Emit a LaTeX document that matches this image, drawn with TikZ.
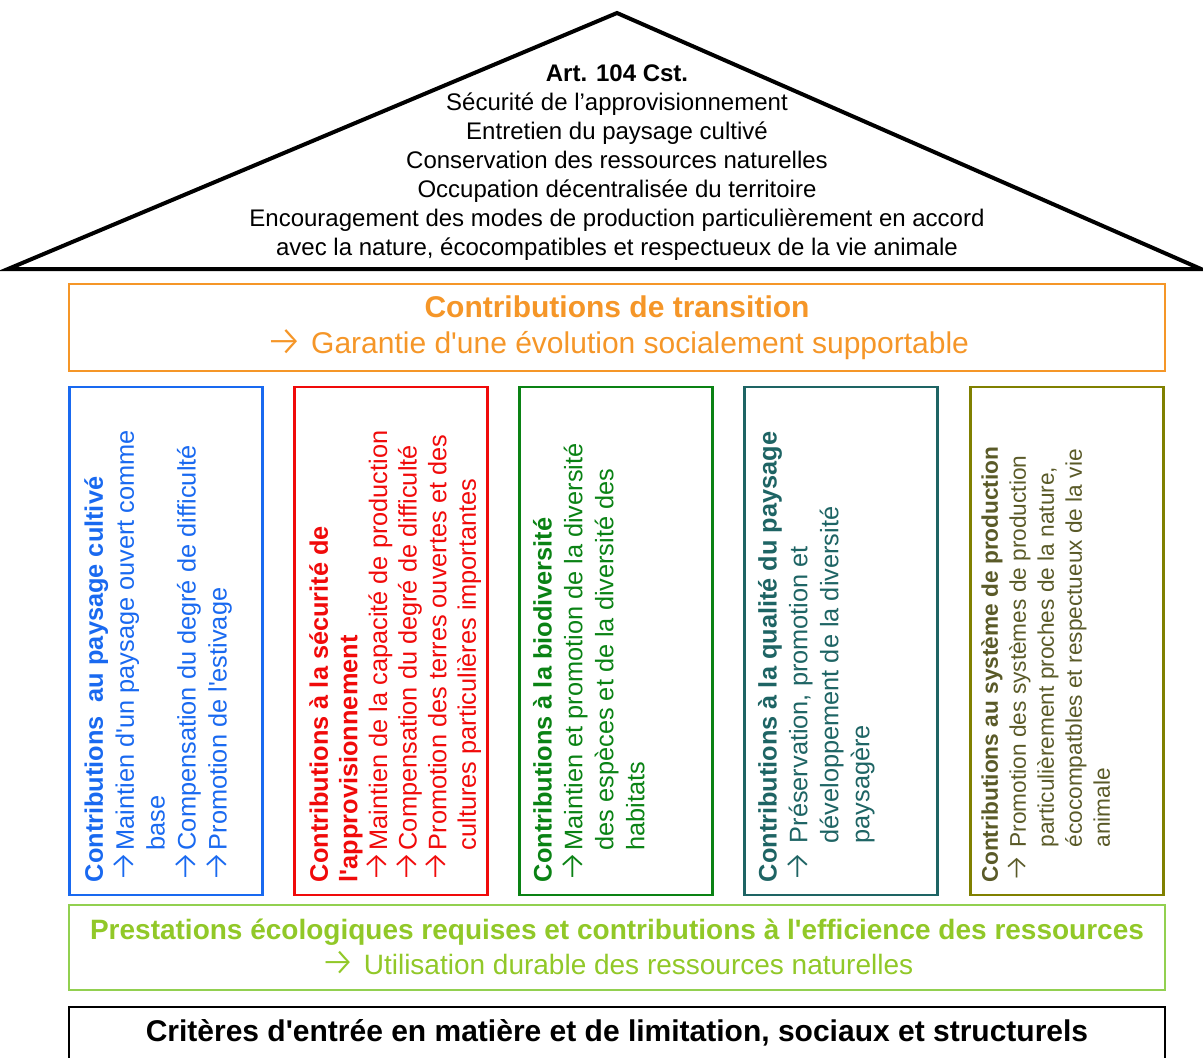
\documentclass[tikz,border=0pt]{standalone}
\usepackage{fontspec}
\setmainfont{Liberation Sans}
\newfontfamily\arrowfont{Fira Sans Light}
\usepackage{tikz}
\usetikzlibrary{positioning}

\definecolor{transition}{RGB}{245,150,40}
\definecolor{paysage}{RGB}{25,105,240}
\definecolor{securite}{RGB}{240,10,10}
\definecolor{biodiv}{RGB}{10,130,20}
\definecolor{qualite}{RGB}{30,100,100}
\definecolor{production}{RGB}{128,128,0}
\definecolor{productiontext}{RGB}{90,90,40}
\definecolor{per}{RGB}{146,208,80}
\definecolor{pertext}{RGB}{145,200,40}

\newcommand\ar{\raisebox{-0.06em}{\scalebox{1.4}{\arrowfont →}}}
\newcommand\sq{\textquotesingle}

\begin{document}
\begin{tikzpicture}[x=0.75pt,y=-0.75pt,
  band/.style={draw,line width=2.2pt,minimum width=822pt,inner sep=0pt,align=center},
  pillar/.style={draw,line width=2.2pt,minimum width=144.75pt,minimum height=381pt,inner sep=0pt},
  pillartext/.style={rotate=90,anchor=north west,align=left,inner sep=0pt,font=\fontsize{19}{23.2}\selectfont}]
\useasboundingbox (0,0) rectangle (1203,1057);
\clip (0,0) rectangle (1203,1057);

\coordinate (apex) at (617,13);
\coordinate (eaveleft) at (8,269);
\coordinate (eaveright) at (1201,269);
\draw [line width=3pt] (eaveleft) -- (apex) -- (eaveright) -- cycle;
\node (art) [align=center,inner sep=0pt,font=\fontsize{18}{21.75}\selectfont] at (617,163)
  {\textbf{Art. 104 Cst.}\\
   Sécurité de l’approvisionnement\\
   Entretien du paysage cultivé\\
   Conservation des ressources naturelles\\
   Occupation décentralisée du territoire\\
   Encouragement des modes de production particulièrement en accord\\
   avec la nature, écocompatibles et respectueux de la vie animale};

\node (trans) [band,draw=transition,text=transition,minimum height=65.25pt,
  font=\fontsize{22.5}{27}\selectfont] at (617,327.5)
  {\textbf{Contributions de transition}\\\ar\ Garantie d\sq une évolution socialement supportable};

\node (p1) [pillar,draw=paysage] at (166,641) {};
\node (p2) [pillar,draw=securite] at (391,641) {};
\node (p3) [pillar,draw=biodiv] at (616,641) {};
\node (p4) [pillar,draw=qualite] at (841,641) {};
\node (p5) [pillar,draw=production] at (1067,641) {};

\node (t1) [pillartext,text=paysage] at ([xshift=12pt,yshift=10.5pt]p1.south west)
  {\textbf{Contributions\ \ au paysage cultivé}\\
   \ar Maintien d\sq un paysage ouvert comme\\
   \hphantom{\ar}base\\
   \ar Compensation du degré de difficulté\\
   \ar Promotion de l\sq estivage};
\node (t2) [pillartext,text=securite,font=\fontsize{19}{22.2}\selectfont] at ([xshift=12pt,yshift=10.5pt]p2.south west)
  {\textbf{Contributions à la sécurité de}\\
   \textbf{l\sq approvisionnement}\\
   \ar Maintien de la capacité de production\\
   \ar Compensation du degré de difficulté\\
   \ar Promotion des terres ouvertes et des\\
   \hphantom{\ar}cultures particulières importantes};
\node (t3) [pillartext,text=biodiv] at ([xshift=11pt,yshift=10.5pt]p3.south west)
  {\textbf{Contributions à la biodiversité}\\
   \ar Maintien et promotion de la diversité\\
   \hphantom{\ar}des espèces et de la diversité des\\
   \hphantom{\ar}habitats};
\node (t4) [pillartext,text=qualite] at ([xshift=11pt,yshift=10.5pt]p4.south west)
  {\textbf{Contributions à la qualité du paysage}\\
   \ar\ Préservation, promotion et\\
   \hphantom{\ar\ }développement de la diversité\\
   \hphantom{\ar\ }paysagère};
\node (t5) [pillartext,text=productiontext,font=\fontsize{17}{21}\selectfont] at ([xshift=9pt,yshift=10.5pt]p5.south west)
  {\textbf{Contributions au système de production}\\
   \ar\ Promotion des systèmes de production\\
   \hphantom{\ar\ }particulièrement proches de la nature,\\
   \hphantom{\ar\ }écocompatbles et respectueux de la vie\\
   \hphantom{\ar\ }animale};

\node (per) [band,draw=per,text=pertext,minimum height=63.75pt,
  font=\fontsize{21}{26}\selectfont] at (617,947.5)
  {\textbf{Prestations écologiques requises et contributions à l\sq efficience des ressources}\\
   \ar\ Utilisation durable des ressources naturelles};

\node (entree) [band,draw=black,minimum height=39pt,
  font=\fontsize{22.5}{26}\selectfont] at (617,1033)
  {\textbf{Critères d\sq entrée en matière et de limitation, sociaux et structurels}};
\end{tikzpicture}
\end{document}
